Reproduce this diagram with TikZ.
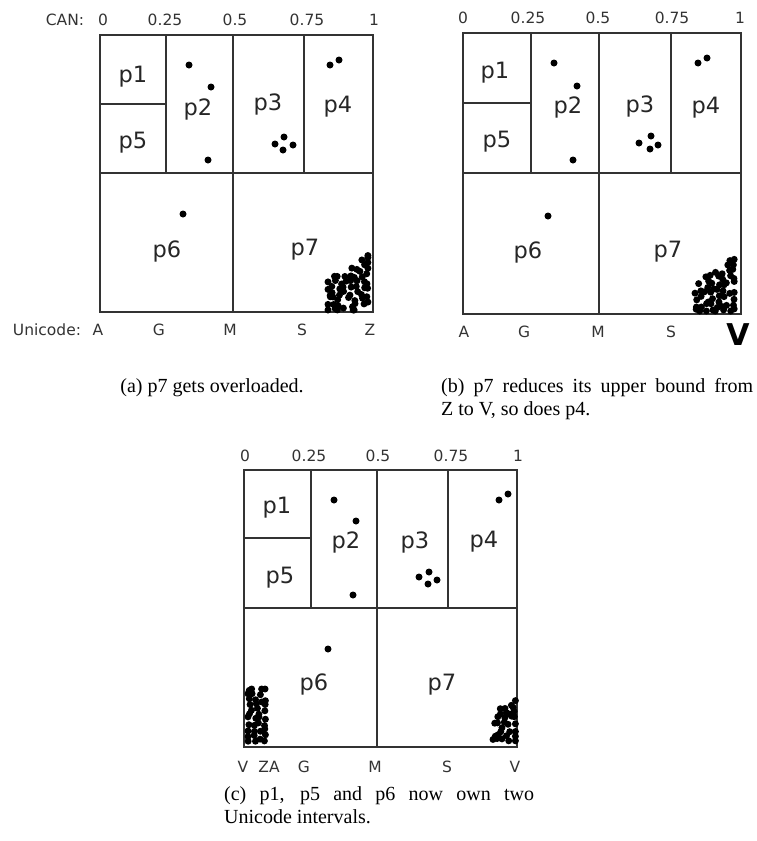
\documentclass[tikz,border=0pt]{standalone}
\usepackage{fontspec}
\setmainfont{Liberation Serif}
\newfontfamily\lblfont{DejaVu Sans}
\tikzset{
  grid/.style={line width=1.5pt, draw=black!80},
  plabel/.style={font=\lblfont\fontsize{22.5}{24}\selectfont, text=black!85, anchor=base, inner sep=0pt},
  axlabel/.style={font=\lblfont\fontsize{15.5}{17}\selectfont, text=black!80, anchor=base, inner sep=0pt},
  biglabel/.style={font=\lblfont\bfseries\fontsize{30}{32}\selectfont, text=black, anchor=base, inner sep=0pt},
  capt/.style={font=\fontsize{20}{23}\selectfont, anchor=base west, inner sep=0pt},
  ptdot/.style={fill=black}
}
% jittered grid of dots: #1 xmin #2 ymin #3 nx #4 ny #5 step #6 cutx #7 cuty #8 skip
\newcommand\dotgrid[8]{%
  \foreach \i in {0,...,#3}{\foreach \j in {0,...,#4}{%
    \pgfmathsetmacro\cdx{min(max(#1+\i*#5+(rnd-0.5)*#5*0.9,#1),#1+#3*#5)}%
    \pgfmathsetmacro\cdy{min(max(#2+\j*#5+(rnd-0.5)*#5*0.9,#2),#2+#4*#5)}%
    \pgfmathsetmacro\cr{rnd}%
    \pgfmathsetmacro\ckeep{(((\cdx-#1)/#6+(\cdy-#2)/#7>=1) && (\cr>#8))?1:0}%
    \ifdim\ckeep pt>0.5pt\relax \fill[ptdot] (\cdx,\cdy) circle[radius=3.5pt];\fi
  }}}
\begin{document}
\begin{tikzpicture}[x=1pt,y=-1pt]
\useasboundingbox (0,0) rectangle (756,841);
\pgfmathsetseed{12345}

% ---------------- panel (a)
\draw[grid] (100,35) rectangle (373,312);
\draw[grid] (100,173) -- (373,173);
\draw[grid] (166,35) -- (166,173);
\draw[grid] (233,35) -- (233,312);
\draw[grid] (304,35) -- (304,173);
\draw[grid] (100,104) -- (166,104);

\node[plabel] (a-p1) at (133,82) {p1};
\node[plabel] (a-p2) at (198,115) {p2};
\node[plabel] (a-p3) at (268,110) {p3};
\node[plabel] (a-p4) at (338,112) {p4};
\node[plabel] (a-p5) at (133,148) {p5};
\node[plabel] (a-p6) at (167,257) {p6};
\node[plabel] (a-p7) at (305,255) {p7};

\foreach \p in {(189,65),(211,87),(208,160),(275,144),(284,137),(293,145),(283,150),(330,65),(339,60),(183,214)}
  \fill[ptdot] \p circle[radius=3.5pt];
\dotgrid{328}{253}{7}{10}{5.7}{42}{26}{0.1}

\node[axlabel] (a-can) at (65,25) {CAN:};
\node[axlabel] (a-t0) at (103,25) {0};
\node[axlabel] (a-t1) at (165,25) {0.25};
\node[axlabel] (a-t2) at (235,25) {0.5};
\node[axlabel] (a-t3) at (307,25) {0.75};
\node[axlabel] (a-t4) at (374,25) {1};
\node[axlabel] (a-uni) at (47,335) {Unicode:};
\node[axlabel] (a-bA) at (98,335) {A};
\node[axlabel] (a-bG) at (159,335) {G};
\node[axlabel] (a-bM) at (230,335) {M};
\node[axlabel] (a-bS) at (302,335) {S};
\node[axlabel] (a-bZ) at (370,335) {Z};

% ---------------- panel (b)
\draw[grid] (463,33) rectangle (741,314);
\draw[grid] (463,173) -- (741,173);
\draw[grid] (531,33) -- (531,173);
\draw[grid] (599,33) -- (599,314);
\draw[grid] (671,33) -- (671,173);
\draw[grid] (463,103) -- (531,103);

\node[plabel] (b-p1) at (495,78) {p1};
\node[plabel] (b-p2) at (568,113) {p2};
\node[plabel] (b-p3) at (640,112) {p3};
\node[plabel] (b-p4) at (706,113) {p4};
\node[plabel] (b-p5) at (497,147) {p5};
\node[plabel] (b-p6) at (528,258) {p6};
\node[plabel] (b-p7) at (668,257) {p7};

\foreach \p in {(554,63),(577,86),(573,160),(639,143),(651,136),(658,145),(650,149),(698,63),(707,58),(548,216)}
  \fill[ptdot] \p circle[radius=3.5pt];
\dotgrid{695}{255}{7}{10}{5.6}{42}{26}{0.1}

\node[axlabel] (b-t0) at (463,23) {0};
\node[axlabel] (b-t1) at (528,23) {0.25};
\node[axlabel] (b-t2) at (598,23) {0.5};
\node[axlabel] (b-t3) at (672,23) {0.75};
\node[axlabel] (b-t4) at (740,23) {1};
\node[axlabel] (b-bA) at (464,337) {A};
\node[axlabel] (b-bG) at (524,337) {G};
\node[axlabel] (b-bM) at (598,337) {M};
\node[axlabel] (b-bS) at (671,337) {S};
\node[biglabel] (b-bV) at (738,345) {V};

% ---------------- panel (c)
\draw[grid] (244,470) rectangle (517,747);
\draw[grid] (244,608) -- (517,608);
\draw[grid] (311,470) -- (311,608);
\draw[grid] (377,470) -- (377,747);
\draw[grid] (448,470) -- (448,608);
\draw[grid] (244,538) -- (311,538);

\node[plabel] (c-p1) at (277,513) {p1};
\node[plabel] (c-p2) at (346,548) {p2};
\node[plabel] (c-p3) at (415,548) {p3};
\node[plabel] (c-p4) at (484,547) {p4};
\node[plabel] (c-p5) at (280,583) {p5};
\node[plabel] (c-p6) at (314,690) {p6};
\node[plabel] (c-p7) at (442,690) {p7};

\foreach \p in {(334,500),(356,521),(353,595),(419,577),(429,572),(437,580),(428,584),(499,500),(508,494),(328,649)}
  \fill[ptdot] \p circle[radius=3.5pt];
\dotgrid{248}{689}{3}{9}{5.8}{1}{1}{0.12}
\dotgrid{493}{696}{4}{8}{5.6}{24}{14}{0.1}

\node[axlabel] (c-t0) at (245,461) {0};
\node[axlabel] (c-t1) at (309,461) {0.25};
\node[axlabel] (c-t2) at (378,461) {0.5};
\node[axlabel] (c-t3) at (451,461) {0.75};
\node[axlabel] (c-t4) at (518,461) {1};
\node[axlabel] (c-bV1) at (243,772) {V};
\node[axlabel] (c-bZA) at (269,772) {ZA};
\node[axlabel] (c-bG) at (304,772) {G};
\node[axlabel] (c-bM) at (375,772) {M};
\node[axlabel] (c-bS) at (447,772) {S};
\node[axlabel] (c-bV2) at (515,772) {V};

% ---------------- captions
\node[capt, anchor=base] (cap-a) at (212,392) {(a) p7 gets overloaded.};
\node[capt] (cap-b1) at (441,392) {\makebox[312pt][s]{(b) p7 reduces its upper bound from}};
\node[capt] (cap-b2) at (441,415) {Z to V, so does p4.};
\node[capt] (cap-c1) at (224,800) {\makebox[310pt][s]{(c) p1, p5 and p6 now own two}};
\node[capt] (cap-c2) at (224,823) {Unicode intervals.};
\end{tikzpicture}
\end{document}
